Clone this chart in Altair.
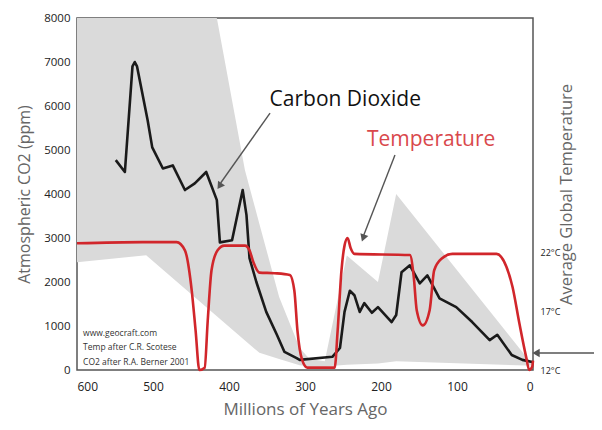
import altair as alt
import pandas as pd

# ---------------- data ----------------
co2_myr = [549, 537, 527, 524, 521, 507, 501, 487, 474, 458, 445, 430, 416, 412, 396, 382, 377,
           373, 364, 351, 337, 327, 311, 307, 264, 254, 248, 241, 235, 228, 222, 212, 204, 186,
           180, 173, 162, 149, 139, 123, 101, 80, 57, 47, 28, 14, 1]
co2_ppm = [4770, 4500, 6900, 7000, 6900, 5670, 5060, 4580, 4650, 4090, 4240, 4500, 3860, 2900,
           2950, 4090, 3520, 2540, 2000, 1320, 800, 410, 270, 230, 300, 500, 1320, 1800, 1700,
           1320, 1520, 1300, 1430, 1090, 1250, 2220, 2380, 1970, 2150, 1630, 1430, 1090, 680,
           800, 340, 230, 180]

temp_myr = [600, 514, 469, 458, 449, 444, 439, 432, 428, 423, 415, 406, 379, 373, 368, 360, 340,
            320, 314, 310, 304, 297, 261, 257, 252, 248, 244, 240, 235, 162, 157, 153, 145, 136,
            130, 120, 106, 48, 35, 27, 18, 9, 5, 1, 0]
temp_c = [22.8, 22.9, 22.9, 22.2, 18.75, 15.4, 12.0, 12.2, 16.2, 20.5, 22.2, 22.6, 22.6, 22.2,
          21.2, 20.3, 20.25, 20.1, 18.75, 15.4, 12.9, 12.2, 12.2, 15.4, 20.5, 22.6, 23.25, 22.4,
          21.9, 21.8, 20.0, 17.1, 15.8, 17.1, 20.5, 21.5, 21.9, 21.9, 20.8, 19.1, 16.0, 13.1,
          12.0, 12.3, 12.8]

band_myr = [600, 509, 416, 379, 360, 334, 307, 294, 274, 245, 204, 180, 9, 0]
band_upper = [8000, 8000, 8000, 4540, 3320, 1660, 500, 250, 200, 2600, 2000, 4000, 300, 150]
band_lower = [2450, 2610, 1220, 670, 390, 250, 110, 80, 80, 120, 150, 200, 100, 100]

x_ticks = [600, 500, 400, 300, 200, 100, 0]
y_ticks = [0, 1000, 2000, 3000, 4000, 5000, 6000, 7000, 8000]
temp_ticks = [12, 17, 22]

label_text = ["Carbon Dioxide", "Temperature"]
label_myr = [247, 134]
label_ppm = [6137, 5228]

source_lines = ["www.geocraft.com", "Temp after C.R. Scotese", "CO2 after R.A. Berner 2001"]
source_myr = [592, 592, 592]
source_ppm = [840, 523, 182]

arrow_x = [346, 181.6, -92]
arrow_y = [5840, 4886, 386]
arrow_x2 = [411, 223, -3]
arrow_y2 = [4250, 3050, 386]
head_x = [412.5, 223.5, -4]
head_y = [4180, 3000, 386]
head_angle = [214, 200, 270]

# ---------------- tables ----------------
co2_df = pd.DataFrame({"myr": co2_myr, "ppm": co2_ppm})
temp_df = pd.DataFrame({"myr": temp_myr, "t": temp_c})
band_df = pd.DataFrame({"myr": band_myr, "up": band_upper, "lo": band_lower})
lab_df = pd.DataFrame({"myr": label_myr, "ppm": label_ppm, "txt": label_text})
src_df = pd.DataFrame({"myr": source_myr, "ppm": source_ppm, "txt": source_lines})
arr_df = pd.DataFrame({"x": arrow_x, "y": arrow_y, "x2": arrow_x2, "y2": arrow_y2})
head_df = pd.DataFrame({"x": head_x, "y": head_y, "a": head_angle})

FONT = "Open Sans"

xscale = alt.Scale(domain=[0, 600], reverse=True, nice=False, zero=False)
yscale = alt.Scale(domain=[0, 8000], nice=False)
tscale = alt.Scale(domain=[12, 42], nice=False, zero=False)

xaxis = alt.Axis(values=x_ticks, title="Millions of Years Ago", ticks=False, domain=False,
                 grid=False, labelFont=FONT, labelFontSize=12, labelColor="#222222",
                 labelPadding=11, titleFont=FONT, titleFontSize=17, titleFontWeight="normal",
                 titleColor="#666666", titlePadding=9)
yaxis = alt.Axis(values=y_ticks, format="d", title="Atmospheric CO2 (ppm)", ticks=False,
                 domain=False, grid=False, labelFont=FONT, labelFontSize=11.5,
                 labelColor="#222222", labelPadding=7, titleFont=FONT, titleFontSize=16,
                 titleFontWeight="normal", titleColor="#666666", titlePadding=11)
taxis = alt.Axis(values=temp_ticks, orient="right", title="Average Global Temperature",
                 labelExpr="datum.value + '°C'", ticks=False, domain=False, grid=False,
                 labelFont=FONT, labelFontSize=9, labelColor="#222222", labelPadding=7,
                 titleFont=FONT, titleFontSize=16.5, titleFontWeight="normal",
                 titleColor="#666666", titleAngle=270, titlePadding=15)

X = lambda f: alt.X(f, type="quantitative", scale=xscale, axis=xaxis)
Y = lambda f: alt.Y(f, type="quantitative", scale=yscale, axis=yaxis)

band = alt.Chart(band_df).mark_area(color="#dadada", opacity=1).encode(
    x=X("myr"), y=Y("up"), y2="lo")

co2 = alt.Chart(co2_df).mark_line(color="#1a1a1a", strokeWidth=2.6, strokeJoin="round").encode(
    x=X("myr"), y=Y("ppm"))

arrows = alt.Chart(arr_df).mark_rule(color="#555555", strokeWidth=1.4).encode(
    x=X("x"), y=Y("y"), x2="x2", y2="y2")

heads = alt.Chart(head_df).mark_point(shape="triangle-up", filled=True, size=70,
                                      color="#555555", opacity=1).encode(
    x=X("x"), y=Y("y"), angle=alt.Angle("a:Q", scale=None))

label_co2 = alt.Chart(lab_df.iloc[[0]]).mark_text(font=FONT, fontSize=21, color="#111111",
                                                  align="center", baseline="middle").encode(
    x=X("myr"), y=Y("ppm"), text="txt:N")
label_t = alt.Chart(lab_df.iloc[[1]]).mark_text(font=FONT, fontSize=21, color="#d9484c",
                                                align="center", baseline="middle").encode(
    x=X("myr"), y=Y("ppm"), text="txt:N")

src = alt.Chart(src_df).mark_text(font=FONT, fontSize=8.5, color="#333333", align="left",
                                  baseline="middle").encode(
    x=X("myr"), y=Y("ppm"), text="txt:N")

left = alt.layer(band, co2, arrows, heads, label_co2, label_t, src)

temp = alt.Chart(temp_df).mark_line(color="#d1262b", strokeWidth=2.6, strokeJoin="round",
                                    interpolate="monotone").encode(
    x=X("myr"), y=alt.Y("t", type="quantitative", scale=tscale, axis=taxis))

chart = alt.layer(left, temp).resolve_scale(y="independent").properties(
    width=456, height=352,
    padding={"left": 69, "top": 10, "right": 61, "bottom": 52},
    autosize=alt.AutoSizeParams(type="none"),
    background="white",
).configure_view(stroke="#555555", strokeWidth=1.5)

chart.save("out.html", embed_options={"renderer": "svg", "actions": False})
